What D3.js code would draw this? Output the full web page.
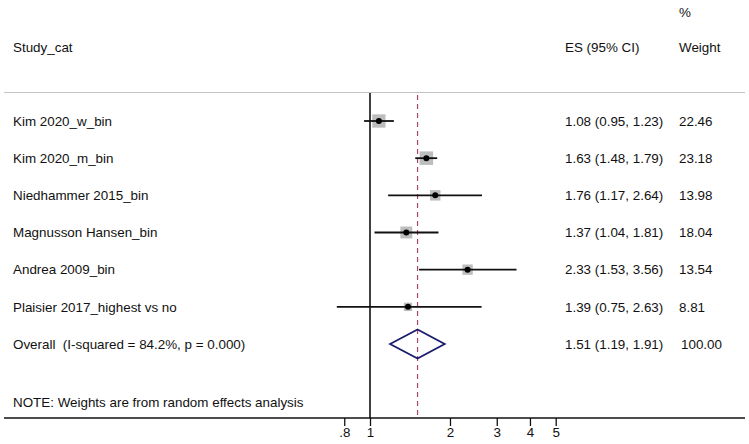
<!DOCTYPE html>
<html><head><meta charset="utf-8">
<script src="https://cdn.jsdelivr.net/npm/d3@7"></script>
<style>body{margin:0;background:#fff}text{font-family:"Liberation Sans",Arial,sans-serif;fill:#111;white-space:pre}</style>
</head><body><svg id="c" width="749" height="444"></svg>
<script>
const studies = ["Kim 2020_w_bin","Kim 2020_m_bin","Niedhammer 2015_bin","Magnusson Hansen_bin","Andrea 2009_bin","Plaisier 2017_highest vs no"];
const es = [1.08,1.63,1.76,1.37,2.33,1.39];
const lcl = [0.95,1.48,1.17,1.04,1.53,0.75];
const ucl = [1.23,1.79,2.64,1.81,3.56,2.63];
const weights = [22.46,23.18,13.98,18.04,13.54,8.81];
const overall = {label:"Overall  (I-squared = 84.2%, p = 0.000)", es:1.51, lcl:1.19, ucl:1.91, weight:100.00};
const tickVals = [0.8,1,2,3,4,5];
const tickLabels = [".8","1","2","3","4","5"];

const svg = d3.select("#c");
const fs = 13.4;
const x = d3.scaleLog().domain([1,5]).range([370,555.7]);
const y = d3.scaleLinear().domain([0,6]).range([121,344]);
const fmt = d3.format(".2f");

// header
svg.append("text").attr("x",13).attr("y",47).attr("dy","0.35em").attr("font-size",fs).text("Study_cat");
svg.append("text").attr("x",565).attr("y",47).attr("dy","0.35em").attr("font-size",fs).text("ES (95% CI)");
svg.append("text").attr("x",679).attr("y",12).attr("dy","0.35em").attr("font-size",fs).text("%");
svg.append("text").attr("x",679).attr("y",47).attr("dy","0.35em").attr("font-size",fs).text("Weight");
svg.append("line").attr("x1",4).attr("x2",745).attr("y1",92.5).attr("y2",92.5).attr("stroke","#c4c4c4").attr("stroke-width",1.2);

// reference lines
svg.append("line").attr("x1",x(1)).attr("x2",x(1)).attr("y1",93).attr("y2",418).attr("stroke","#000").attr("stroke-width",1.5);
svg.append("line").attr("x1",x(overall.es)).attr("x2",x(overall.es)).attr("y1",95).attr("y2",418)
  .attr("stroke","#a2486a").attr("stroke-width",1.2).attr("stroke-dasharray","5,4");

// study rows
const maxW = d3.max(weights);
const side = d3.scaleSqrt().domain([0,maxW]).range([0,13.5]);
studies.forEach((s,i)=>{
  const yy = y(i);
  svg.append("text").attr("x",13).attr("y",yy).attr("dy","0.35em").attr("font-size",fs).text(s);
  svg.append("text").attr("x",565).attr("y",yy).attr("dy","0.35em").attr("font-size",fs)
     .text(`${fmt(es[i])} (${fmt(lcl[i])}, ${fmt(ucl[i])})`);
  svg.append("text").attr("x",679).attr("y",yy).attr("dy","0.35em").attr("font-size",fs).text(fmt(weights[i]));
  const sd = side(weights[i]);
  svg.append("rect").attr("x",x(es[i])-sd/2).attr("y",yy-sd/2).attr("width",sd).attr("height",sd).attr("fill","#bdbdbd");
  svg.append("line").attr("x1",x(lcl[i])).attr("x2",x(ucl[i])).attr("y1",yy).attr("y2",yy).attr("stroke","#111").attr("stroke-width",1.8);
  svg.append("circle").attr("cx",x(es[i])).attr("cy",yy).attr("r",3).attr("fill","#000");
});

// overall
const yo = y(6);
svg.append("text").attr("x",13).attr("y",yo).attr("dy","0.35em").attr("font-size",fs).text(overall.label);
svg.append("text").attr("x",565).attr("y",yo).attr("dy","0.35em").attr("font-size",fs)
   .text(`${fmt(overall.es)} (${fmt(overall.lcl)}, ${fmt(overall.ucl)})`);
svg.append("text").attr("x",681).attr("y",yo).attr("dy","0.35em").attr("font-size",fs).text(fmt(overall.weight));
const h = 14.5;
svg.append("path").attr("d",`M${x(overall.lcl)},${yo}L${x(overall.es)},${yo-h}L${x(overall.ucl)},${yo}L${x(overall.es)},${yo+h}Z`)
  .attr("fill","none").attr("stroke","#1c1c6e").attr("stroke-width",1.8);

// note
svg.append("text").attr("x",13).attr("y",402).attr("dy","0.35em").attr("font-size",fs).text("NOTE: Weights are from random effects analysis");

// axis
svg.append("line").attr("x1",4).attr("x2",745).attr("y1",418).attr("y2",418).attr("stroke","#111").attr("stroke-width",1.5);
const ax = d3.axisBottom(x).tickValues(tickVals).tickFormat((d,i)=>tickLabels[i]).tickSize(8).tickPadding(1);
const g = svg.append("g").attr("transform","translate(0,418)").call(ax);
g.select(".domain").remove();
g.selectAll(".tick line").attr("stroke","#111").attr("stroke-width",1.3);
g.selectAll(".tick text").attr("font-size",fs).attr("font-family","Liberation Sans, Arial, sans-serif").attr("fill","#111");
</script></body></html>
